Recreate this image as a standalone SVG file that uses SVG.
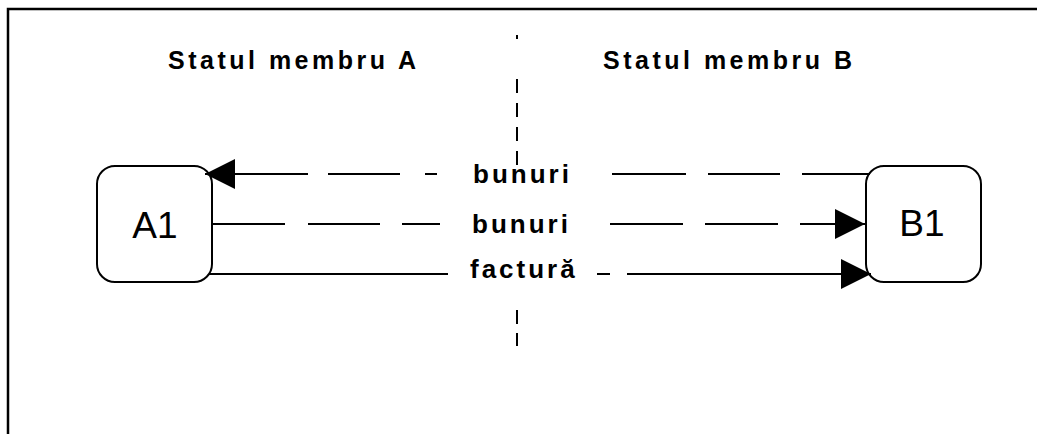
<svg xmlns="http://www.w3.org/2000/svg" width="1037" height="434" viewBox="0 0 1037 434">
<style>
.frame{fill:none;stroke:#000;stroke-width:2.5}
.box{fill:#fff;stroke:#000;stroke-width:2}
.ln{fill:none;stroke:#000;stroke-width:2}
.hdr{font-family:"Liberation Sans",Arial,sans-serif;font-weight:bold;font-size:25px;letter-spacing:3.5px;fill:#000}
.lbl{font-family:"Liberation Sans",Arial,sans-serif;font-weight:bold;font-size:26px;letter-spacing:3px;fill:#000}
.nt{font-family:"Liberation Sans",Arial,sans-serif;font-size:37px;fill:#000;text-anchor:middle}
</style>
<defs>
<marker id="ah" markerUnits="userSpaceOnUse" markerWidth="30" markerHeight="30" viewBox="0 0 30 30" refX="30" refY="15" orient="auto">
<path d="M0,0 L30,15 L0,30 Z" fill="#000"/>
</marker>
</defs>
<rect width="1037" height="434" fill="#fff"/>
<path class="frame" d="M8,434 V9 H1037"/>
<g id="headers">
<text class="hdr" x="168" y="69">Statul membru A</text>
<text class="hdr" x="603" y="69">Statul membru B</text>
</g>
<g id="divider">
<path class="ln" d="M517,35 V39 M517,79 V93 M517,103 V117 M517,127 V141 M517,151 V165 M517,310 V324 M517,333 V346"/>
</g>
<g id="node-A1">
<rect class="box" x="97" y="166" width="115" height="116" rx="18"/>
<text class="nt" x="155" y="238">A1</text>
</g>
<g id="node-B1">
<rect class="box" x="866" y="166" width="115" height="116" rx="18"/>
<text class="nt" x="922" y="236">B1</text>
</g>
<g id="connectors">
<path class="ln" marker-end="url(#ah)" d="M870,174 H802 M780,174 H708 M686,174 H612 M437,174 H425 M400,174 H328 M308,174 H205"/>
<path class="ln" marker-end="url(#ah)" d="M212,224 H285 M308,224 H380 M402,224 H440 M610,224 H683 M705,224 H778 M800,224 H865"/>
<path class="ln" marker-end="url(#ah)" d="M209,274 H448 M597,274 H610 M627,274 H871"/>
<text class="lbl" x="473" y="183">bunuri</text>
<text class="lbl" x="472" y="233">bunuri</text>
<text class="lbl" x="470" y="278">factură</text>
</g>
</svg>
